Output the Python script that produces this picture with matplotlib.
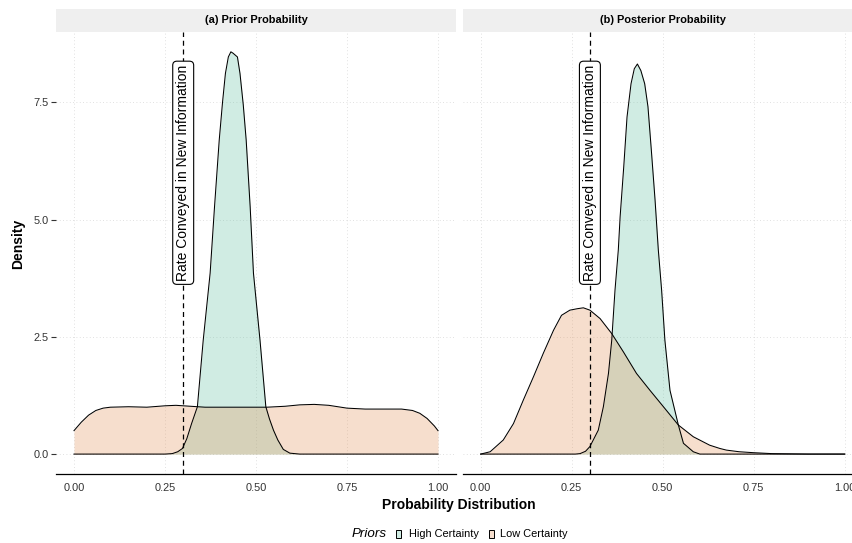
import numpy as np
import matplotlib.pyplot as plt
from matplotlib.patches import Rectangle

plt.rcParams['font.family'] = ['Liberation Sans', 'DejaVu Sans']

# density estimates read along the probability axis
prior_high_x = [0.00, 0.25, 0.27, 0.285, 0.298, 0.31, 0.323, 0.339, 0.355, 0.374, 0.386,
                0.399, 0.408, 0.416, 0.424, 0.431, 0.437, 0.449, 0.456, 0.465, 0.473,
                0.484, 0.493, 0.511, 0.527, 0.537, 0.548, 0.56, 0.575, 0.593, 0.62, 1.00]
prior_high_y = [0.00, 0.00, 0.01, 0.05, 0.12, 0.33, 0.65, 1.01, 2.43, 3.86, 5.27,
                6.70, 7.50, 8.12, 8.47, 8.58, 8.55, 8.47, 8.12, 7.45, 6.70,
                5.27, 3.86, 2.43, 1.01, 0.75, 0.51, 0.30, 0.10, 0.02, 0.00, 0.00]

prior_low_x = [0.00, 0.02, 0.04, 0.06, 0.08, 0.10, 0.15, 0.20, 0.25, 0.28, 0.32, 0.36,
               0.45, 0.53, 0.58, 0.62, 0.66, 0.70, 0.75, 0.80, 0.85, 0.90, 0.93,
               0.95, 0.97, 0.99, 1.00]
prior_low_y = [0.50, 0.68, 0.83, 0.93, 0.98, 1.00, 1.01, 1.00, 1.03, 1.04, 1.02, 1.00,
               1.00, 1.00, 1.02, 1.05, 1.06, 1.04, 0.98, 0.96, 0.96, 0.96, 0.93,
               0.87, 0.76, 0.60, 0.50]

post_high_x = [0.00, 0.26, 0.273, 0.288, 0.30, 0.323, 0.337, 0.351, 0.36, 0.369, 0.378,
               0.383, 0.393, 0.402, 0.413, 0.422, 0.4305, 0.44, 0.4505, 0.4595, 0.4688,
               0.479, 0.488, 0.497, 0.506, 0.52, 0.543, 0.557, 0.584, 0.602, 1.00]
post_high_y = [0.00, 0.00, 0.01, 0.06, 0.16, 0.51, 1.01, 1.72, 2.43, 3.50, 4.35,
               5.06, 6.13, 7.19, 7.90, 8.22, 8.32, 8.18, 7.90, 7.41, 6.48,
               5.42, 4.35, 3.50, 2.43, 1.36, 0.62, 0.23, 0.05, 0.00, 0.00]

post_low_x = [0.00, 0.026, 0.062, 0.09, 0.117, 0.145, 0.172, 0.20, 0.222, 0.245, 0.265,
              0.282, 0.30, 0.328, 0.36, 0.392, 0.428, 0.465, 0.502, 0.543, 0.584,
              0.629, 0.657, 0.675, 0.71, 0.749, 0.80, 0.90, 1.00]
post_low_y = [0.00, 0.05, 0.30, 0.65, 1.15, 1.65, 2.15, 2.64, 2.96, 3.07, 3.10,
              3.12, 3.07, 2.89, 2.57, 2.18, 1.72, 1.36, 1.01, 0.62, 0.37,
              0.19, 0.12, 0.085, 0.05, 0.03, 0.01, 0.00, 0.00]

rate = 0.3
rate_label = "Rate Conveyed in New Information"
label_y = 6.0
panel_titles = ["(a) Prior Probability", "(b) Posterior Probability"]
group_names = ["High Certainty", "Low Certainty"]
group_colors = ["#66c2a5", "#e4935a"]
x_ticks = [0.0, 0.25, 0.5, 0.75, 1.0]
x_tick_labels = ["0.00", "0.25", "0.50", "0.75", "1.00"]
y_ticks = [0.0, 2.5, 5.0, 7.5]
y_tick_labels = ["0.0", "2.5", "5.0", "7.5"]

panels = [
    [(prior_high_x, prior_high_y), (prior_low_x, prior_low_y)],
    [(post_high_x, post_high_y), (post_low_x, post_low_y)],
]

W, H = 852, 543
fig = plt.figure(figsize=(W / 100, H / 100), dpi=100)


def px_box(left, top, right, bottom):
    return [left / W, 1 - bottom / H, (right - left) / W, (bottom - top) / H]


# shared y scale with 5% padding like ggplot
ymax = max(max(prior_high_y), max(prior_low_y), max(post_high_y), max(post_low_y))
pad = 0.05 * ymax

panel_w = 400.4
panel_top, panel_bottom = 31.7, 474.2
for i, x0 in enumerate([55.8, 462.5]):
    ax = fig.add_axes(px_box(x0, panel_top, x0 + panel_w, panel_bottom))
    ax.set_xlim(-0.05, 1.05)
    ax.set_ylim(-pad, ymax + pad)

    for (xs, ys), c in zip(panels[i], group_colors):
        ax.fill_between(xs, ys, 0, color=c, alpha=0.3, lw=0, zorder=2)
        ax.plot(xs, ys, color="black", lw=0.75, zorder=3)

    ax.axvline(rate, color="black", lw=0.9, ls=(0, (4, 3)), zorder=4)
    ax.text(rate, label_y, rate_label, rotation=90, ha="center", va="center",
            fontsize=10, zorder=5,
            bbox=dict(boxstyle="round,pad=0.25,rounding_size=0.3", fc="white",
                      ec="black", lw=0.8))

    ax.set_xticks(x_ticks)
    ax.set_xticklabels(x_tick_labels)
    ax.set_yticks(y_ticks)
    ax.grid(True, color="#d6d6d6", lw=0.6, ls=(0, (1, 3)), zorder=0)
    ax.tick_params(axis="x", length=0, pad=6, labelsize=7.9, labelcolor="#333333")
    if i == 0:
        ax.set_yticklabels(y_tick_labels)
        ax.tick_params(axis="y", length=3.5, width=0.8, color="#333333", pad=1.5,
                       labelsize=7.9, labelcolor="#333333")
    else:
        ax.tick_params(axis="y", length=0, labelleft=False)
    for side in ["top", "right", "left"]:
        ax.spines[side].set_visible(False)
    ax.spines["bottom"].set_linewidth(0.9)
    ax.set_axisbelow(True)

    # facet strip
    strip = fig.add_axes(px_box(x0, 9, x0 + panel_w, panel_top))
    strip.set_facecolor("#efefef")
    strip.set_xticks([])
    strip.set_yticks([])
    for s in strip.spines.values():
        s.set_visible(False)
    strip.text(0.5, 0.5, panel_titles[i], ha="center", va="center",
               fontsize=7.9, fontweight="bold", transform=strip.transAxes)

fig.text(18 / W, 1 - 244 / H, "Density", rotation=90, ha="center", va="center",
         fontsize=10, fontweight="bold")
fig.text(458.5 / W, 1 - 505 / H, "Probability Distribution", ha="center",
         va="center", fontsize=10, fontweight="bold")

# legend along the bottom
leg_y = 534
fig.text(352 / W, 1 - leg_y / H, "Priors", ha="left", va="center",
         fontsize=9.6, style="italic")
for key_x, txt_x, name, c in zip([396, 489], [409, 500], group_names, group_colors):
    fig.patches.append(Rectangle((key_x / W, 1 - (leg_y + 4) / H), 5 / W, 8 / H,
                                 transform=fig.transFigure, fc=c, alpha=0.3, lw=0))
    fig.patches.append(Rectangle((key_x / W, 1 - (leg_y + 4) / H), 5 / W, 8 / H,
                                 transform=fig.transFigure, fc="none", ec="black",
                                 lw=0.7))
    fig.text(txt_x / W, 1 - leg_y / H, name, ha="left", va="center", fontsize=7.9)

plt.savefig("out.png", dpi=100)
